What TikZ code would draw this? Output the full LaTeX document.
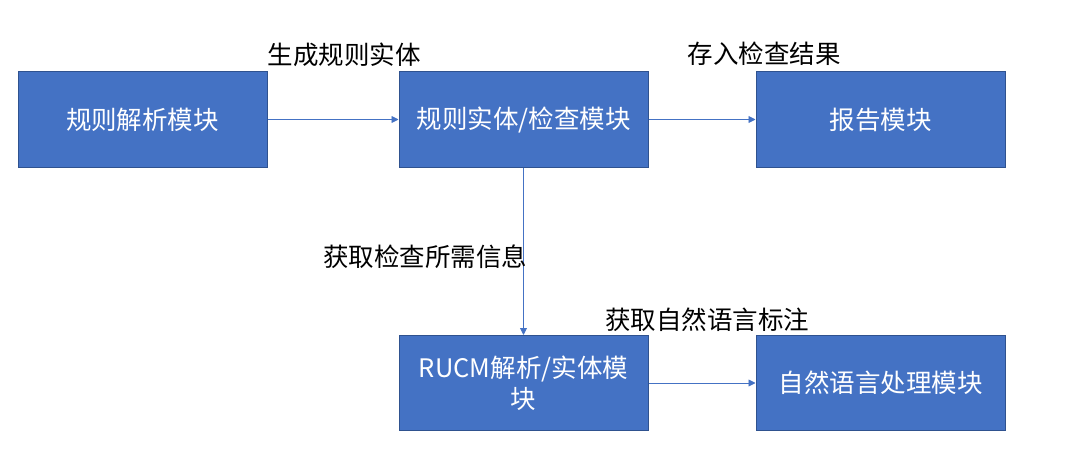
\documentclass[tikz,border=0pt]{standalone}
\usepackage{fontspec}
\newfontfamily\cjk{Noto Sans CJK SC}
\usepackage{tikz}
\usetikzlibrary{arrows.meta, positioning}
\usepackage{xcolor}
\definecolor{boxblue}{HTML}{4472C4}
\definecolor{boxedge}{HTML}{2F528F}

\begin{document}
\begin{tikzpicture}[
    x=1pt, y=-1pt,
    module/.style={rectangle, draw=boxedge, line width=1pt, fill=boxblue,
                   minimum width=249pt, minimum height=95pt, inner sep=2pt,
                   align=center, text=white, font=\cjk\fontsize{25.5}{31}\selectfont},
    lbl/.style ={font=\cjk\fontsize{25.5}{31}\selectfont, text=black, inner sep=0pt},
    arr/.style ={-{Triangle[length=7pt, width=7pt]}, line width=0.9pt, boxblue},
]
  \useasboundingbox (0,0) rectangle (1072,460);

  %% ---- modules ----
  \node[module] (parse)  at (142.5, 119.5) {规则解析模块};
  \node[module] (check)  at (523.5, 119.5) {规则实体/检查模块};
  \node[module] (report) at (880.5, 119.5) {报告模块};
  \node[module] (rucm)   at (523.5, 383)   {RUCM解析/实体模\\块};
  \node[module] (nlp)    at (880.5, 383)   {自然语言处理模块};

  %% ---- connectors ----
  \draw[arr] (parse.east) -- (check.west);
  \draw[arr] (check.east) -- (report.west);
  \draw[arr] (check.south) -- (rucm.north);
  \draw[arr] (rucm.east)  -- (nlp.west);

  %% ---- labels ----
  \node[lbl] (l1) at (344, 55)  {生成规则实体};
  \node[lbl] (l2) at (764, 54)  {存入检查结果};
  \node[lbl] (l3) at (425, 257) {获取检查所需信息};
  \node[lbl] (l4) at (707, 320) {获取自然语言标注};

\end{tikzpicture}
\end{document}
